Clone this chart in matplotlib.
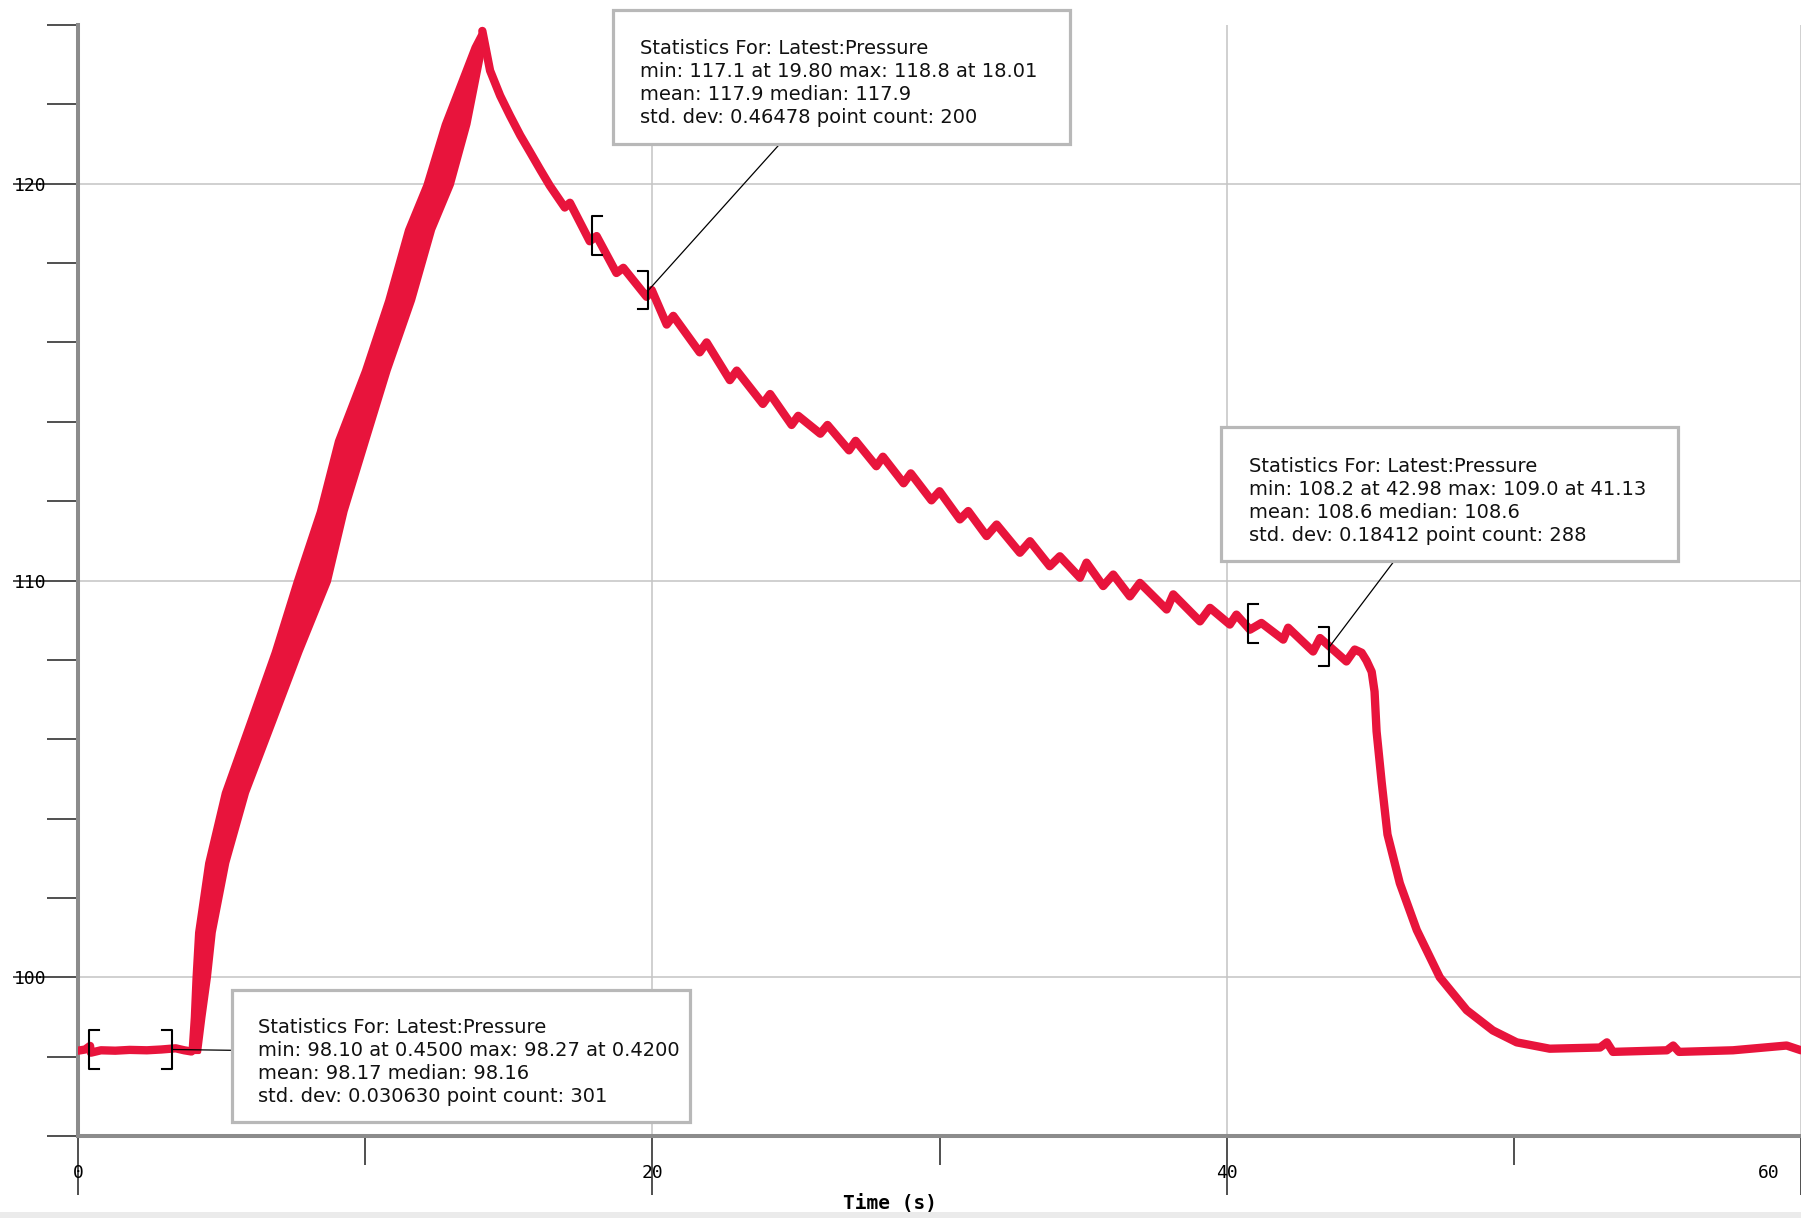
import matplotlib.pyplot as plt
from matplotlib.patches import Rectangle
import matplotlib.transforms as mtransforms

# Pressure trace

# flat start before pumping
base_t = [0.0, 0.25, 0.42, 0.45, 0.8, 1.3, 1.8, 2.4, 2.9, 3.4, 3.7, 3.95]
base_p = [98.15, 98.18, 98.27, 98.10, 98.16, 98.15, 98.17, 98.16, 98.18,
          98.21, 98.16, 98.13]

# pumping phase: the trace oscillates so fast it shows as a band,
# given here as left/right edges at a set of pressure levels
band_p = [98.13, 99.0, 100.0, 101.14, 102.89, 104.66, 106.43, 108.21, 109.98,
          111.75, 113.53, 115.30, 117.07, 118.85, 119.98, 121.51, 122.39,
          123.46, 123.85]
band_left = [3.90, 3.98, 4.04, 4.13, 4.48, 5.06, 5.93, 6.80, 7.56, 8.37,
             9.00, 9.94, 10.75, 11.44, 12.08, 12.72, 13.19, 13.76, 14.04]
band_right = [4.20, 4.35, 4.54, 4.71, 5.18, 5.87, 6.80, 7.73, 8.72, 9.30,
              10.05, 10.80, 11.65, 12.35, 13.00, 13.58, 13.82, 14.11, 14.08]

# slow leak after the peak, then the release
decay_t = [14.08, 14.35, 14.70, 15.04, 15.40, 15.74, 16.10, 16.43, 16.95,
           17.13, 17.82, 18.06, 18.75, 18.99, 19.80, 19.98, 20.50, 20.73,
           21.65, 21.89, 22.70, 22.94, 23.85, 24.10, 24.85, 25.08, 25.85,
           26.10, 26.85, 27.08, 27.80, 28.03, 28.75, 29.00, 29.72, 30.00,
           30.71, 31.00, 31.64, 31.99, 32.80, 33.15, 33.84, 34.19, 34.89,
           35.12, 35.70, 36.05, 36.63, 36.98, 37.91, 38.14, 39.07, 39.42,
           40.11, 40.34, 40.81, 41.21, 41.97, 42.14, 43.01, 43.25, 44.17,
           44.46, 44.70, 44.87, 45.05, 45.15, 45.22, 45.40, 45.60, 46.03,
           46.62, 47.42, 48.36, 49.27, 50.10, 51.25, 53.00, 53.24, 53.45,
           55.33, 55.55, 55.75, 57.63, 59.50, 60.00]
decay_p = [123.85, 122.85, 122.22, 121.72, 121.22, 120.80, 120.35, 119.95,
           119.40, 119.52, 118.55, 118.68, 117.75, 117.88, 117.15, 117.32,
           116.45, 116.67, 115.75, 116.00, 115.05, 115.29, 114.45, 114.70,
           113.92, 114.15, 113.70, 113.92, 113.28, 113.52, 112.88, 113.12,
           112.45, 112.70, 112.02, 112.25, 111.54, 111.75, 111.12, 111.41,
           110.70, 110.99, 110.36, 110.61, 110.07, 110.45, 109.86, 110.15,
           109.60, 109.94, 109.27, 109.65, 108.97, 109.31, 108.89, 109.14,
           108.76, 108.93, 108.51, 108.81, 108.21, 108.55, 107.96, 108.26,
           108.18, 107.98, 107.70, 107.20, 106.20, 104.90, 103.60, 102.37,
           101.19, 100.00, 99.17, 98.66, 98.36, 98.20, 98.23, 98.36, 98.12,
           98.16, 98.28, 98.12, 98.16, 98.28, 98.16]

# statistics boxes: selected range (start, end) and the level of each bracket
stat_start = [0.38, 17.90, 40.74]
stat_end = [3.27, 19.85, 43.56]
stat_start_p = [98.18, 118.69, 108.91]
stat_end_p = [98.18, 117.32, 108.33]
stat_text = [
    ["Statistics For: Latest:Pressure",
     "min: 98.10 at 0.4500 max: 98.27 at 0.4200",
     "mean: 98.17 median: 98.16",
     "std. dev: 0.030630 point count: 301"],
    ["Statistics For: Latest:Pressure",
     "min: 117.1 at 19.80 max: 118.8 at 18.01",
     "mean: 117.9 median: 117.9",
     "std. dev: 0.46478 point count: 200"],
    ["Statistics For: Latest:Pressure",
     "min: 108.2 at 42.98 max: 109.0 at 41.13",
     "mean: 108.6 median: 108.6",
     "std. dev: 0.18412 point count: 288"],
]

red = "#e8143c"

fig = plt.figure(figsize=(18.01, 12.18), dpi=100)
ax = fig.add_axes([78 / 1801, 82 / 1218, 1723 / 1801, 1111 / 1218])

ax.plot(base_t, base_p, color=red, lw=6, solid_capstyle="round",
        solid_joinstyle="round", zorder=3)
ax.fill_betweenx(band_p, band_left, band_right, facecolor=red, edgecolor=red,
                 lw=3, zorder=3)
ax.plot(decay_t, decay_p, color=red, lw=6, solid_capstyle="round",
        solid_joinstyle="round", zorder=3)

ax.set_xlim(0, 60)
ax.set_ylim(96, 124)

# axes look of the old logger software
for side in ["top", "right"]:
    ax.spines[side].set_visible(False)
for side in ["left", "bottom"]:
    ax.spines[side].set_color("#8c8c8c")
    ax.spines[side].set_linewidth(2.9)

ax.set_xticks([0, 20, 40, 60])
ax.set_xticks([10, 30, 50], minor=True)
ax.set_yticks([100, 110, 120])
ax.set_yticks(range(96, 125, 2), minor=True)

ax.tick_params(which="both", direction="out", color="#505050", width=1.4,
               labelsize=13, labelfontfamily="DejaVu Sans Mono")
ax.tick_params(axis="y", which="major", length=47, pad=-24)
ax.tick_params(axis="x", which="major", length=42.5, pad=-22)
ax.tick_params(axis="y", which="minor", length=22)
ax.tick_params(axis="x", which="minor", length=21)

# last x label sits left of the edge
last = ax.get_xticklabels()[-1]
last.set_transform(last.get_transform() +
                   mtransforms.ScaledTranslation(-0.32, 0, fig.dpi_scale_trans))

ax.grid(True, which="major", color="#c4c4c4", lw=1.1)
ax.set_axisbelow(True)

ax.set_xlabel("Time (s)", fontfamily="DejaVu Sans Mono", fontweight="bold",
              fontsize=14, va="center")
ax.xaxis.set_label_coords(0.471, -0.0612)

# brackets around the selected ranges
arm = 0.35
half = 0.49
for i in range(3):
    x0, y0 = stat_start[i], stat_start_p[i]
    x1, y1 = stat_end[i], stat_end_p[i]
    ax.plot([x0 + arm, x0, x0, x0 + arm], [y0 + half, y0 + half, y0 - half,
            y0 - half], color="black", lw=1.5, zorder=4)
    ax.plot([x1 - arm, x1, x1, x1 - arm], [y1 + half, y1 + half, y1 - half,
            y1 - half], color="black", lw=1.5, zorder=4)

# box placement: (left, bottom, right, top), text left, first line, leader start
boxes = [
    (5.35, 96.35, 21.31, 99.67, 6.28, 98.73, (5.35, 98.16)),
    (18.63, 121.01, 34.54, 124.38, 19.57, 123.40, (24.51, 121.06)),
    (39.82, 110.49, 55.71, 113.86, 40.77, 112.87, (45.79, 110.45)),
]
line_step = 0.578

for i, (l, b, r, t, tx, ty, lead) in enumerate(boxes):
    ax.plot([stat_end[i] + 0.02, lead[0]], [stat_end_p[i], lead[1]],
            color="black", lw=0.9, zorder=4, clip_on=False)
    ax.add_patch(Rectangle((l, b), r - l, t - b, facecolor="white",
                           edgecolor="#b8b8b8", lw=2.3, zorder=5,
                           clip_on=False))
    for k, line in enumerate(stat_text[i]):
        ax.text(tx, ty - k * line_step, line, fontsize=14, color="#111111",
                fontfamily="DejaVu Sans", ha="left", va="center", zorder=6,
                clip_on=False)

# thin grey strip along the bottom of the window
fig.patches.append(Rectangle((0, 0), 1, 6 / 1218, transform=fig.transFigure,
                             facecolor="#ebebeb", edgecolor="none"))

plt.savefig("out.png", dpi=100)
